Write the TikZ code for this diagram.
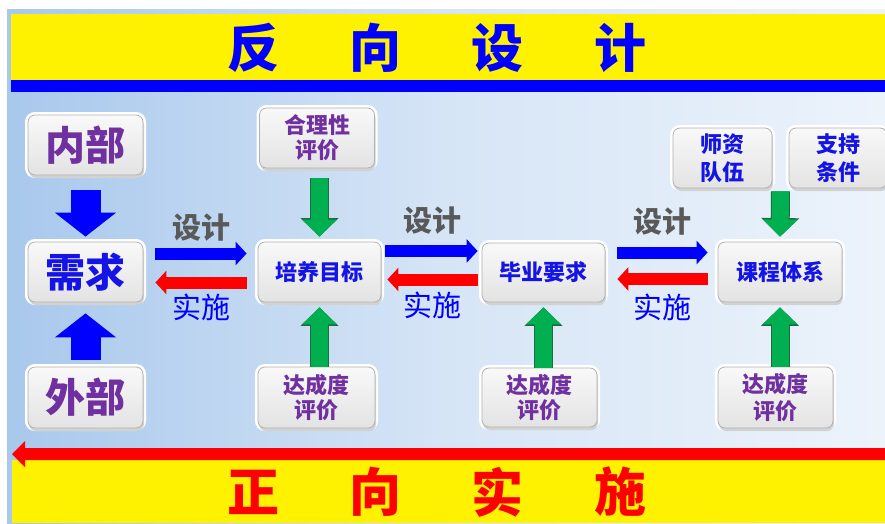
\documentclass[tikz,border=0pt]{standalone}
\usepackage{fontspec}
\newfontfamily\cjk{Noto Sans CJK SC}
\usetikzlibrary{arrows.meta,shadows,calc}
\definecolor{ppl}{HTML}{7030A0}
\definecolor{bl}{HTML}{1414E6}
\definecolor{gtxt}{HTML}{595959}
\definecolor{grn}{HTML}{00B050}
\definecolor{gdk}{HTML}{1E6B3C}
\definecolor{bgl}{RGB}{168,200,236}
\definecolor{bgm}{RGB}{214,229,246}
\definecolor{bgr}{RGB}{236,243,251}
\begin{document}
\begin{tikzpicture}[x=1pt,y=-1pt,
  gbox/.style={rounded corners=7pt, draw=gray!60, line width=0.8pt,
    top color=gray!5, bottom color=gray!22,
    preaction={draw=white, line width=6pt},
    drop shadow={opacity=0.35, shadow xshift=1pt, shadow yshift=-3pt},
    align=center, inner sep=0pt, font=\cjk\bfseries},
  big/.style={font=\cjk\bfseries\fontsize{40}{44}\selectfont},
  small/.style={font=\cjk\bfseries\fontsize{22}{25}\selectfont},
  bigblue/.style={draw=blue, line width=30pt, -{Triangle[length=24pt,width=60pt]}},
  bluearr/.style={draw=blue, line width=12pt, -{Triangle[length=11pt,width=23pt]}},
  redarr/.style={draw=red, line width=12pt, -{Triangle[length=11pt,width=23pt]}},
  garr/.style={draw=grn, line width=17pt, -{Triangle[length=17pt,width=34pt]},
    preaction={draw=gdk, line width=19pt, -{Triangle[length=18.5pt,width=37pt]}}},
  dlabel/.style={font=\cjk\bfseries\fontsize{29}{30}\selectfont, text=gtxt},
  slabel/.style={font=\cjk\fontsize{29}{30}\selectfont, text=blue},
  title/.style={font=\cjk\bfseries\fontsize{52}{54}\selectfont}
]
\useasboundingbox (0,0) rectangle (885,523);
\fill[white] (0,0) rectangle (885,523);
% background
\shade[left color=bgl, right color=bgm] (7,9) rectangle (446,523);
\shade[left color=bgm, right color=bgr] (446,9) rectangle (885,523);
% top band
\fill[yellow] (11,14) rectangle (885,80);
\fill[blue] (11,80) rectangle (885,92);
\node[title, text=blue] (t1) at (253,48) {反};
\node[title, text=blue] (t2) at (375,48) {向};
\node[title, text=blue] (t3) at (497,48) {设};
\node[title, text=blue] (t4) at (620,48) {计};
% bottom band
\fill[yellow] (12,460) rectangle (885,523);
\fill[red] (885,448) -- (25,448) -- (25,441) -- (12,454) -- (25,467) -- (25,460) -- (885,460) -- cycle;
\node[title, text=red] (b1) at (253,492) {正};
\node[title, text=red] (b2) at (375,492) {向};
\node[title, text=red] (b3) at (497,492) {实};
\node[title, text=red] (b4) at (620,492) {施};
% nodes
\node[gbox, big, text=ppl, minimum width=115pt, minimum height=60pt] (neibu) at (85.5,145) {内部};
\node[gbox, big, text=bl, minimum width=115pt, minimum height=60pt] (xuqiu) at (85.5,272) {需求};
\node[gbox, big, text=ppl, minimum width=115pt, minimum height=61pt] (waibu) at (85.5,397.5) {外部};
\node[gbox, small, text=ppl, minimum width=115pt, minimum height=60pt] (heli) at (317,138) {合理性\\评价};
\node[gbox, small, text=bl, minimum width=123pt, minimum height=60pt] (peiyang) at (319.5,272) {培养目标};
\node[gbox, small, text=ppl, minimum width=117pt, minimum height=61pt] (dacheng1) at (316.5,397.5) {达成度\\评价};
\node[gbox, small, text=bl, minimum width=123pt, minimum height=59pt] (biye) at (543.5,272.5) {毕业要求};
\node[gbox, small, text=ppl, minimum width=115pt, minimum height=59pt] (dacheng2) at (539.5,397.5) {达成度\\评价};
\node[gbox, font=\cjk\bfseries\fontsize{22}{28}\selectfont, text=bl, minimum width=99pt, minimum height=60pt] (shizi) at (722.5,158) {师资\\队伍};
\node[gbox, font=\cjk\bfseries\fontsize{22}{28}\selectfont, text=bl, minimum width=98pt, minimum height=60pt] (zhichi) at (838,158) {支持\\条件};
\node[gbox, small, text=bl, minimum width=124pt, minimum height=60pt] (kecheng) at (780,272) {课程体系};
\node[gbox, font=\cjk\bfseries\fontsize{22}{27}\selectfont, text=ppl, minimum width=115pt, minimum height=61pt] (dacheng3) at (775.5,397.5) {达成度\\评价};
\coordinate (sup) at ($(shizi.south east)!0.5!(zhichi.south west)$);
% blue vertical arrows
\draw[bigblue, shorten <=15pt, shorten >=5pt] (neibu.south) -- (xuqiu.north);
\draw[bigblue, shorten <=7pt, shorten >=11pt] (waibu.north) -- (xuqiu.south);
% horizontal pairs
\draw[bluearr, shorten <=12pt, shorten >=11pt] ([yshift=18.5pt]xuqiu.east) -- ([yshift=18.5pt]xuqiu.east -| peiyang.west);
\draw[redarr, shorten <=11pt, shorten >=12pt] ([yshift=-10.5pt]peiyang.west) -- ([yshift=-10.5pt]peiyang.west -| xuqiu.east);
\draw[bluearr, shorten <=4pt, shorten >=4pt] ([yshift=21pt]peiyang.east) -- ([yshift=21pt]peiyang.east -| biye.west);
\draw[redarr, shorten <=4pt, shorten >=6pt] ([yshift=-7pt]biye.west) -- ([yshift=-7pt]biye.west -| peiyang.east);
\draw[bluearr, shorten <=12pt, shorten >=10pt] ([yshift=20pt]biye.east) -- ([yshift=20pt]biye.east -| kecheng.west);
\draw[redarr, shorten <=10pt, shorten >=12pt] ([yshift=-7pt]kecheng.west) -- ([yshift=-7pt]kecheng.west -| biye.east);
% labels
\node[dlabel] (d1) at (201,228) {设计};
\node[slabel] (s1) at (201,307) {实施};
\node[dlabel] (d2) at (432,221) {设计};
\node[slabel] (s2) at (432,305) {实施};
\node[dlabel] (d3) at (662,222) {设计};
\node[slabel] (s3) at (662,307) {实施};
% green arrows
\draw[garr, shorten <=10pt, shorten >=5pt] (heli.south -| peiyang.north) -- (peiyang.north);
\draw[garr, shorten >=5pt] (dacheng1.north -| peiyang.south) -- (peiyang.south);
\draw[garr, shorten >=5pt] (dacheng2.north -| biye.south) -- (biye.south);
\draw[garr, shorten >=5pt] (dacheng3.north -| kecheng.south) -- (kecheng.south);
\draw[garr, shorten <=3pt, shorten >=5pt] (sup) -- (kecheng.north);
\end{tikzpicture}
\end{document}
